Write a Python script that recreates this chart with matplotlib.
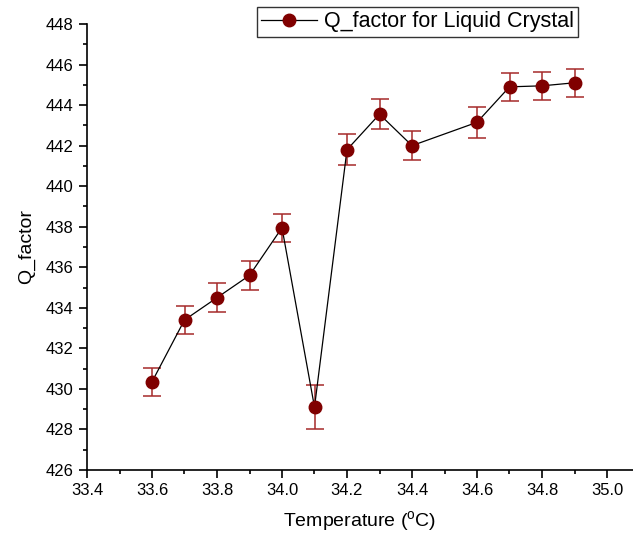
import matplotlib
matplotlib.use("Agg")
import matplotlib.pyplot as plt
from matplotlib.lines import Line2D
from matplotlib.ticker import MultipleLocator

plt.rcParams['font.family'] = ['Liberation Sans', 'DejaVu Sans']

# Messdaten
temperature = [33.6, 33.7, 33.8, 33.9, 34.0, 34.1, 34.2, 34.3, 34.4, 34.6, 34.7, 34.8, 34.9]
q_factor = [430.35, 433.4, 434.5, 435.6, 437.95, 429.1, 441.8, 443.55, 442.0, 443.15, 444.9, 444.95, 445.1]
q_err = [0.7, 0.7, 0.7, 0.7, 0.7, 1.1, 0.75, 0.75, 0.7, 0.75, 0.7, 0.7, 0.7]

fig = plt.figure(figsize=(6.33, 5.48), dpi=100)
ax = fig.add_axes([87 / 633, 78 / 548, 1 - 87 / 633, 446 / 548])

ax.errorbar(temperature, q_factor, yerr=q_err, color="black", linewidth=0.9,
            marker="o", markersize=9, markerfacecolor="#800000", markeredgecolor="#800000",
            ecolor="#a52a2a", elinewidth=1.1, capsize=6.5, capthick=1.1)

ax.set_xlim(33.4, 35.08)
ax.set_ylim(426, 448)
ax.xaxis.set_minor_locator(MultipleLocator(0.1))
ax.yaxis.set_major_locator(MultipleLocator(2))
ax.yaxis.set_minor_locator(MultipleLocator(1))
ax.set_xticks([33.4 + 0.2 * i for i in range(9)])
ax.set_xticklabels([f"{33.4 + 0.2 * i:.1f}" for i in range(9)])

ax.spines["top"].set_visible(False)
ax.spines["right"].set_visible(False)
ax.spines["left"].set_linewidth(1.2)
ax.spines["bottom"].set_linewidth(1.2)
ax.tick_params(which="major", direction="out", length=6, width=1.2, labelsize=12)
ax.tick_params(which="minor", direction="out", length=3, width=1.2)

ax.set_xlabel("Temperature ($^\\mathregular{o}$C)", fontsize=14, labelpad=8)
ax.set_ylabel("Q_factor", fontsize=14, labelpad=8)

handle = Line2D([], [], color="black", linewidth=0.9, marker="o", markersize=9,
                markerfacecolor="#800000", markeredgecolor="#800000")
leg = fig.legend([handle], ["Q_factor for Liquid Crystal"], loc="upper right",
                 bbox_to_anchor=(578 / 633, 1 - 7 / 548), fontsize=15.5, frameon=True,
                 fancybox=False, borderpad=0.2, handlelength=2.6, handletextpad=0.3,
                 borderaxespad=0)
leg.get_frame().set_edgecolor("black")
leg.get_frame().set_linewidth(1.0)

fig.savefig("out.png", dpi=100)
